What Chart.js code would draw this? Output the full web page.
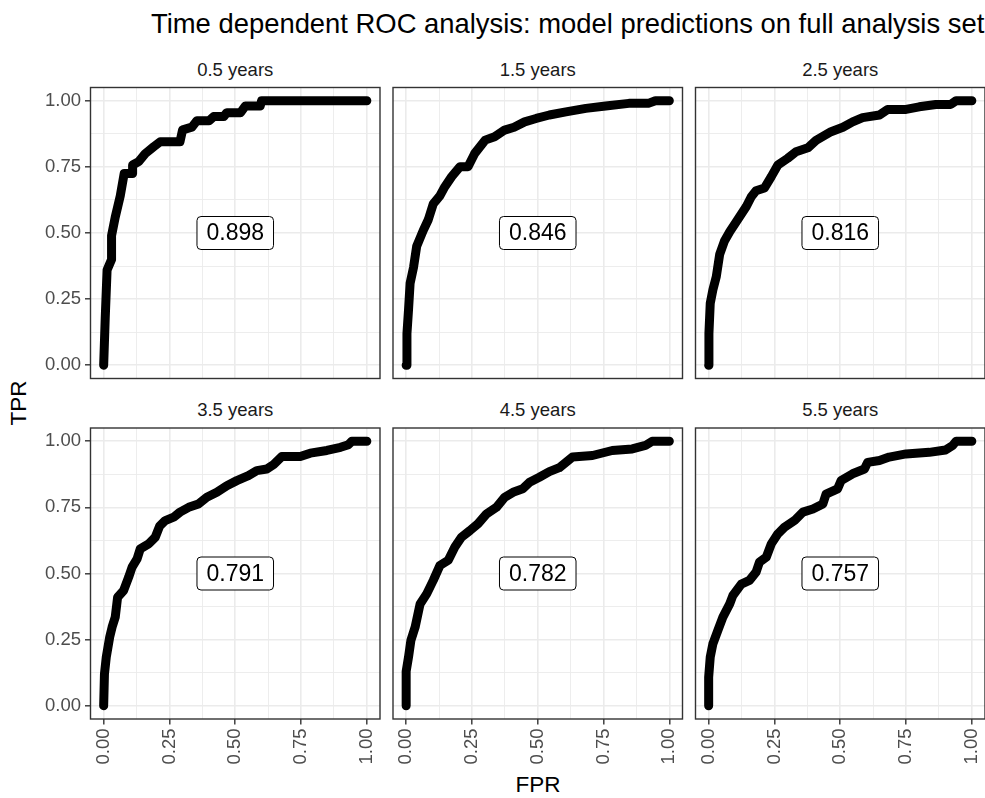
<!DOCTYPE html>
<html>
<head>
<meta charset="utf-8">
<script src="https://cdn.jsdelivr.net/npm/chart.js@4.4.1/dist/chart.umd.min.js"></script>
<style>
  html, body { margin: 0; padding: 0; background: #fff; width: 985px; height: 798px; overflow: hidden; }
  body { position: relative; font-family: "Liberation Sans", Arial, sans-serif; }
  canvas { position: absolute; }
  .txt { position: absolute; white-space: nowrap; line-height: 1; }
</style>
</head>
<body>
<div class="txt" id="title" style="left:151px; top:10px; font-size:27.4px; color:#000;">Time dependent ROC analysis: model predictions on full analysis set</div>
<div class="txt" id="ylab" style="left:19px; top:403px; font-size:22.5px; color:#000; transform:translate(-50%,-50%) rotate(-90deg);">TPR</div>
<div class="txt" id="xlab" style="left:538px; top:774px; font-size:22.5px; color:#000; transform:translateX(-50%);">FPR</div>
<script>
// facet labels and AUC per panel
const panelTitles = ["0.5 years", "1.5 years", "2.5 years", "3.5 years", "4.5 years", "5.5 years"];
const aucLabels = ["0.898", "0.846", "0.816", "0.791", "0.782", "0.757"];

// axis breaks (same on both axes)
const majorTicks = [0, 0.25, 0.5, 0.75, 1];
const minorTicks = [0.125, 0.375, 0.625, 0.875];
const tickLabels = ["0.00", "0.25", "0.50", "0.75", "1.00"];

// ROC curves
const fpr05 = [0, 0.006, 0.013, 0.03, 0.03, 0.044, 0.063, 0.078, 0.108, 0.11, 0.133, 0.158, 0.19, 0.215, 0.29, 0.30, 0.335, 0.354, 0.40, 0.418, 0.456, 0.468, 0.52, 0.538, 0.595, 0.60, 1.0];
const tpr05 = [0, 0.18, 0.36, 0.40, 0.49, 0.56, 0.64, 0.725, 0.725, 0.757, 0.77, 0.80, 0.826, 0.845, 0.845, 0.89, 0.90, 0.924, 0.924, 0.94, 0.94, 0.955, 0.955, 0.98, 0.98, 1.0, 1.0];

const fpr15 = [0, 0.003, 0.009, 0.015, 0.028, 0.04, 0.065, 0.084, 0.103, 0.128, 0.147, 0.173, 0.204, 0.235, 0.26, 0.30, 0.336, 0.374, 0.41, 0.45, 0.494, 0.544, 0.607, 0.683, 0.758, 0.846, 0.92, 0.947, 1];
const tpr15 = [0, 0.12, 0.21, 0.31, 0.37, 0.45, 0.51, 0.55, 0.61, 0.64, 0.675, 0.713, 0.75, 0.75, 0.80, 0.851, 0.864, 0.889, 0.90, 0.92, 0.933, 0.946, 0.958, 0.971, 0.98, 0.99, 0.99, 1, 1];

const fpr25 = [0, 0.001, 0.006, 0.016, 0.029, 0.042, 0.06, 0.08, 0.11, 0.143, 0.162, 0.18, 0.212, 0.238, 0.263, 0.30, 0.332, 0.377, 0.408, 0.465, 0.51, 0.547, 0.585, 0.649, 0.68, 0.75, 0.80, 0.863, 0.92, 0.94, 1];
const tpr25 = [0, 0.12, 0.234, 0.285, 0.335, 0.42, 0.47, 0.505, 0.55, 0.60, 0.637, 0.66, 0.67, 0.713, 0.757, 0.782, 0.807, 0.822, 0.85, 0.883, 0.90, 0.92, 0.936, 0.946, 0.967, 0.967, 0.977, 0.986, 0.986, 1, 1];

const fpr35 = [0, 0.003, 0.01, 0.023, 0.032, 0.044, 0.053, 0.076, 0.095, 0.108, 0.127, 0.139, 0.171, 0.196, 0.213, 0.234, 0.266, 0.29, 0.323, 0.36, 0.392, 0.43, 0.468, 0.506, 0.55, 0.582, 0.62, 0.646, 0.677, 0.747, 0.785, 0.848, 0.90, 0.93, 0.943, 1];
const tpr35 = [0, 0.12, 0.184, 0.26, 0.297, 0.335, 0.41, 0.436, 0.486, 0.524, 0.555, 0.593, 0.612, 0.637, 0.68, 0.70, 0.713, 0.732, 0.75, 0.763, 0.788, 0.807, 0.832, 0.851, 0.87, 0.889, 0.895, 0.912, 0.942, 0.942, 0.955, 0.965, 0.977, 0.987, 1, 1];

const fpr45 = [0, 0, 0.009, 0.018, 0.034, 0.053, 0.078, 0.103, 0.128, 0.16, 0.185, 0.21, 0.242, 0.273, 0.305, 0.343, 0.374, 0.406, 0.443, 0.469, 0.506, 0.544, 0.582, 0.632, 0.708, 0.783, 0.859, 0.909, 0.935, 1];
const tpr45 = [0, 0.13, 0.184, 0.247, 0.297, 0.385, 0.423, 0.474, 0.53, 0.55, 0.60, 0.637, 0.662, 0.688, 0.725, 0.75, 0.788, 0.807, 0.82, 0.845, 0.864, 0.885, 0.90, 0.94, 0.946, 0.965, 0.971, 0.984, 1, 1];

const fpr55 = [0, 0, 0.006, 0.016, 0.035, 0.054, 0.08, 0.092, 0.124, 0.155, 0.18, 0.193, 0.219, 0.238, 0.263, 0.288, 0.326, 0.358, 0.396, 0.434, 0.446, 0.49, 0.503, 0.547, 0.592, 0.604, 0.649, 0.686, 0.75, 0.838, 0.90, 0.927, 0.94, 1];
const tpr55 = [0, 0.108, 0.184, 0.234, 0.285, 0.335, 0.385, 0.417, 0.46, 0.474, 0.505, 0.543, 0.562, 0.612, 0.65, 0.675, 0.70, 0.732, 0.744, 0.763, 0.80, 0.82, 0.851, 0.877, 0.895, 0.92, 0.927, 0.94, 0.952, 0.958, 0.967, 0.984, 1, 1];

const curves = [[fpr05, tpr05], [fpr15, tpr15], [fpr25, tpr25], [fpr35, tpr35], [fpr45, tpr45], [fpr55, tpr55]];

// panel layout (facet_wrap, 2 rows x 3 cols)
const colLeft = [90.5, 393, 695.5];
const rowTop = [87.5, 428];
const panelW = 289.5;
const panelH = 291;
const stripBaseline = [76.7, 416.7];

const FONT = '"Liberation Sans", Arial, sans-serif';
const gridValues = majorTicks.concat(minorTicks).sort((a, b) => a - b);
const isMajor = (v) => majorTicks.indexOf(v) >= 0;

// border + AUC label drawn on top of the curve
const panelDecor = {
  id: "panelDecor",
  afterDatasetsDraw(chart, args, opts) {
    const { ctx, chartArea: a, scales } = chart;
    const cx = scales.x.getPixelForValue(0.5);
    const cy = scales.y.getPixelForValue(0.5);
    ctx.save();
    ctx.font = "23px " + FONT;
    const tw = ctx.measureText(opts.auc).width;
    const bw = tw + 19, bh = 33;
    ctx.beginPath();
    ctx.roundRect(cx - bw / 2, cy - bh / 2, bw, bh, 4);
    ctx.fillStyle = "#fff";
    ctx.fill();
    ctx.strokeStyle = "#000";
    ctx.lineWidth = 1;
    ctx.stroke();
    ctx.fillStyle = "#000";
    ctx.textAlign = "center";
    ctx.textBaseline = "middle";
    ctx.fillText(opts.auc, cx, cy + 1);

    ctx.strokeStyle = "#333333";
    ctx.lineWidth = 1.4;
    ctx.strokeRect(a.left, a.top, a.right - a.left, a.bottom - a.top);
    ctx.restore();
  },
};

function axisOpts(showLabels, fixedSize, horizontal) {
  return {
    type: "linear",
    min: -0.05,
    max: 1.05,
    border: { display: false },
    afterBuildTicks: (s) => { s.ticks = gridValues.map((v) => ({ value: v })); },
    afterFit: (s) => {
      if (horizontal) s.height = fixedSize; else s.width = fixedSize;
      // no extra room for label overhang: the panel must sit exactly where set
      s.paddingTop = 0; s.paddingBottom = 0; s.paddingLeft = 0; s.paddingRight = 0;
    },
    grid: {
      color: "#EBEBEB",
      lineWidth: (c) => (isMajor(c.tick.value) ? 1.6 : 0.9),
      drawTicks: showLabels,
      tickLength: 5.5,
      tickWidth: 1.4,
      tickColor: (c) => (isMajor(c.tick.value) ? "#333333" : "rgba(0,0,0,0)"),
    },
    ticks: {
      display: showLabels,
      autoSkip: false,
      padding: 4,
      color: "#4D4D4D",
      font: { family: FONT, size: 18.5 },
      minRotation: horizontal ? 90 : 0,
      maxRotation: horizontal ? 90 : 0,
      callback: (v) => { const k = majorTicks.indexOf(v); return k >= 0 ? tickLabels[k] : ""; },
    },
  };
}

curves.forEach(([fpr, tpr], i) => {
  const col = i % 3, row = Math.floor(i / 3);
  const showY = col === 0, showX = row === 1;
  const pl = colLeft[col], pt = rowTop[row];
  const ML = showY ? 91 : 6, MB = showX ? 78 : 6, MT = 6, MR = 6;
  const left = Math.floor(pl) - ML, top = Math.floor(pt) - MT;
  const W = Math.ceil(pl + panelW) + MR - left;
  const H = Math.ceil(pt + panelH) + MB - top;

  const canvas = document.createElement("canvas");
  canvas.width = W;
  canvas.height = H;
  canvas.style.left = left + "px";
  canvas.style.top = top + "px";
  canvas.style.width = W + "px";
  canvas.style.height = H + "px";
  document.body.appendChild(canvas);

  new Chart(canvas, {
    type: "line",
    data: {
      datasets: [{
        data: fpr.map((x, k) => ({ x: x, y: tpr[k] })),
        borderColor: "#000",
        borderWidth: 9,
        borderCapStyle: "round",
        borderJoinStyle: "round",
        pointRadius: 0,
        tension: 0,
        fill: false,
      }],
    },
    options: {
      responsive: false,
      animation: false,
      devicePixelRatio: 1,
      events: [],
      layout: { padding: { top: pt - top, right: left + W - (pl + panelW), left: 0, bottom: 0 } },
      plugins: {
        legend: { display: false },
        tooltip: { enabled: false },
        panelDecor: { auc: aucLabels[i] },
      },
      scales: {
        x: axisOpts(showX, top + H - (pt + panelH), true),
        y: axisOpts(showY, pl - left, false),
      },
    },
    plugins: [panelDecor],
  });

  // facet strip text
  const strip = document.createElement("div");
  strip.className = "txt";
  strip.textContent = panelTitles[i];
  strip.style.fontSize = "18.5px";
  strip.style.color = "#1A1A1A";
  strip.style.left = (pl + panelW / 2) + "px";
  strip.style.top = (stripBaseline[row] - 0.8465 * 18.5) + "px";
  strip.style.transform = "translateX(-50%)";
  document.body.appendChild(strip);
});
</script>
</body>
</html>
